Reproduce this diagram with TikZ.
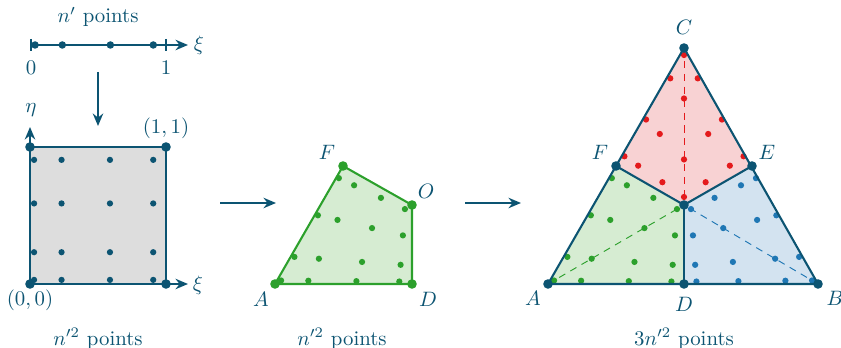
\documentclass[tikz,border=0pt]{standalone}
\usetikzlibrary{calc,arrows.meta}
\definecolor{dblue}{RGB}{12,84,114}
\definecolor{gfill}{RGB}{214,236,210}
\definecolor{gdot}{RGB}{44,160,44}
\definecolor{rfill}{RGB}{248,210,211}
\definecolor{rdot}{RGB}{228,26,28}
\definecolor{bfill}{RGB}{211,227,240}
\definecolor{bdot}{RGB}{31,119,180}
\definecolor{sqfill}{RGB}{221,221,221}
\newcommand\quaddots[5]{%
  \foreach \s in {0.03,0.232,0.588,0.906}{%
    \foreach \t in {0.03,0.232,0.588,0.906}{%
      \fill[#5] ($($(#1)!\s!(#2)$)!\t!($(#4)!\s!(#3)$)$) circle[radius=1.5pt];}}}
\begin{document}
\begin{tikzpicture}[x=0.48pt,y=-0.48pt,
  edge/.style={draw=dblue,line width=1pt,line join=round},
  arr/.style={dblue,line width=1pt,-{Stealth[length=6pt,width=5pt]}},
  dsh/.style={line width=0.45pt,dash pattern=on 3.4pt off 2.8pt},
  every node/.style={text=dblue}]
\useasboundingbox (0,0) rectangle (841,348);

% ---- 1D line
\coordinate (L0) at (31,45);
\coordinate (L1) at (166,45);
\coordinate (Lend) at (188,45);
\draw[arr] (L0) -- (Lend);
\draw[edge] ($(L0)+(0,-6)$) -- ($(L0)+(0,6)$);
\draw[edge] ($(L1)+(0,-6)$) -- ($(L1)+(0,6)$);
\foreach \t in {0.03,0.232,0.588,0.906}
  \fill[dblue] ($(L0)!\t!(L1)$) circle[radius=1.8pt];
\node (npts) at (98,17) {$n'$ points};
\node (zero) at (31,68) {$0$};
\node (one) at (166,68) {$1$};
\node (xi1) at (199,45) {$\xi$};
\coordinate (d1) at (98,72);
\coordinate (d2) at (98,126);
\draw[arr] (d1) -- (d2);

% ---- square
\coordinate (S00) at (30,284);
\coordinate (S10) at (166,284);
\coordinate (S11) at (166,147);
\coordinate (S01) at (30,147);
\fill[sqfill] (S00) -- (S10) -- (S11) -- (S01) -- cycle;
\draw[edge] (S00) -- (S10) -- (S11) -- (S01) -- cycle;
\coordinate (etaend) at (30,127);
\coordinate (xiend) at (188,284);
\draw[arr] (S00) -- (etaend);
\draw[arr] (S00) -- (xiend);
\quaddots{S00}{S10}{S11}{S01}{dblue}
\foreach \p in {S00,S10,S11,S01} \fill[dblue] (\p) circle[radius=2.3pt];
\node (eta) at (31,110) {$\eta$};
\node (xi2) at (198,285) {$\xi$};
\node (c11) at (166,128) {$(1,1)$};
\node (c00) at (30,300) {$(0,0)$};
\node (sqpts) at (98,339) {$n'^2$ points};

% ---- arrows between
\coordinate (a1s) at (220,203);
\coordinate (a1e) at (276,203);
\coordinate (a2s) at (465,203);
\coordinate (a2e) at (521,203);
\draw[arr] (a1s) -- (a1e);
\draw[arr] (a2s) -- (a2e);

% ---- middle quad
\coordinate (qA) at (275,284);
\coordinate (qD) at (412,284);
\coordinate (qO) at (412,205);
\coordinate (qF) at (343,166);
\fill[gfill] (qA) -- (qD) -- (qO) -- (qF) -- cycle;
\quaddots{qA}{qD}{qO}{qF}{gdot}
\draw[draw=gdot,line width=1pt,line join=round] (qA) -- (qD) -- (qO) -- (qF) -- cycle;
\foreach \p in {qA,qD,qO,qF} \fill[gdot] (\p) circle[radius=2.3pt];
\node (lqA) at (261,299) {$A$};
\node (lqD) at (428,299) {$D$};
\node (lqO) at (426,191) {$O$};
\node (lqF) at (327,152) {$F$};
\node (qpts) at (342,339) {$n'^2$ points};

% ---- triangle
\coordinate (A) at (548,284);
\coordinate (D) at (684,284);
\coordinate (B) at (818,284);
\coordinate (C) at (684,48);
\coordinate (F) at (616,166);
\coordinate (E) at (752,166);
\coordinate (O) at (684,205);
\fill[gfill] (A) -- (D) -- (O) -- (F) -- cycle;
\fill[bfill] (B) -- (D) -- (O) -- (E) -- cycle;
\fill[rfill] (C) -- (F) -- (O) -- (E) -- cycle;
\draw[gdot,dsh] (A) -- (O);
\draw[bdot,dsh] (B) -- (O);
\draw[rdot,dsh] (C) -- (O);
\quaddots{A}{D}{O}{F}{gdot}
\quaddots{B}{D}{O}{E}{bdot}
\quaddots{C}{F}{O}{E}{rdot}
\draw[edge] (A) -- (B) -- (C) -- cycle;
\draw[edge] (F) -- (O) -- (E);
\draw[edge] (D) -- (O);
\foreach \p in {A,B,C,D,E,F,O} \fill[dblue] (\p) circle[radius=2.3pt];
\node (lA) at (533,298) {$A$};
\node (lD) at (684,304) {$D$};
\node (lB) at (835,298) {$B$};
\node (lC) at (684,27) {$C$};
\node (lF) at (600,152) {$F$};
\node (lE) at (767,152) {$E$};
\node (tpts) at (684,339) {$3n'^2$ points};
\end{tikzpicture}
\end{document}
